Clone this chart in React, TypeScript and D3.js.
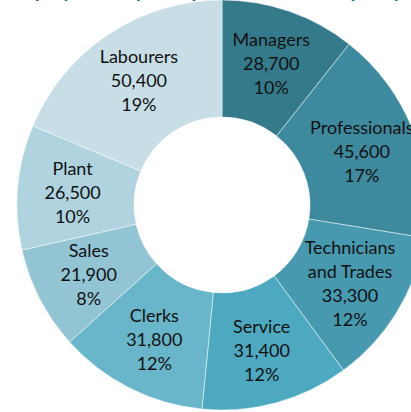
import React from "react";
import * as d3 from "d3";

const categories: string[][] = [
  ["Managers"],
  ["Professionals"],
  ["Technicians", "and Trades"],
  ["Service"],
  ["Clerks"],
  ["Sales"],
  ["Plant"],
  ["Labourers"],
];
const values: number[] = [28700, 45600, 33300, 31400, 31800, 21900, 26500, 50400];
const percents: string[] = ["10%", "17%", "12%", "12%", "12%", "8%", "10%", "19%"];
const colors: string[] = [
  "#347a8b",
  "#3d8a9e",
  "#4699ae",
  "#4ca9c0",
  "#69b5ca",
  "#93c4d4",
  "#afd3df",
  "#c8dee6",
];
const title = "Employment by occupation, Western Sydney";

export default function App() {
  const W = 411;
  const H = 412;
  const cx = 222;
  const cy = 205;
  const outerR = 205;
  const innerR = 88;
  const labelR = 150;

  const pie = d3
    .pie<number>()
    .sort(null)
    .value((d) => d)
    .startAngle(0)
    .endAngle(2 * Math.PI);
  const arcs = pie(values);
  const arcGen = d3.arc<d3.PieArcDatum<number>>().innerRadius(innerR).outerRadius(outerR);
  const labelArc = d3.arc<d3.PieArcDatum<number>>().innerRadius(labelR).outerRadius(labelR);
  const fmt = d3.format(",");
  const lineH = 24;

  return (
    <svg
      width={W}
      height={H}
      style={{ position: "absolute", left: 0, top: 0, background: "#fff" }}
      fontFamily="Lato, 'Open Sans', sans-serif"
    >
      <text x={205} y={-3} textAnchor="middle" fontSize={20} fontWeight="bold" fill="#1f6577">
        {title}
      </text>
      <g transform={`translate(${cx},${cy})`}>
        {arcs.map((a, i) => (
          <path key={i} d={arcGen(a) || ""} fill={colors[i]} stroke="#ffffff" strokeOpacity={0.6} strokeWidth={0.8} />
        ))}
        {arcs.map((a, i) => {
          const [lx, ly] = labelArc.centroid(a);
          const lines = [...categories[i], fmt(values[i]), percents[i]];
          const y0 = ly - ((lines.length - 1) * lineH) / 2;
          return (
            <text key={"t" + i} textAnchor="middle" fontSize={18} fill="#111">
              {lines.map((ln, j) => (
                <tspan key={j} x={lx} y={y0 + j * lineH} dominantBaseline="central">
                  {ln}
                </tspan>
              ))}
            </text>
          );
        })}
      </g>
    </svg>
  );
}
